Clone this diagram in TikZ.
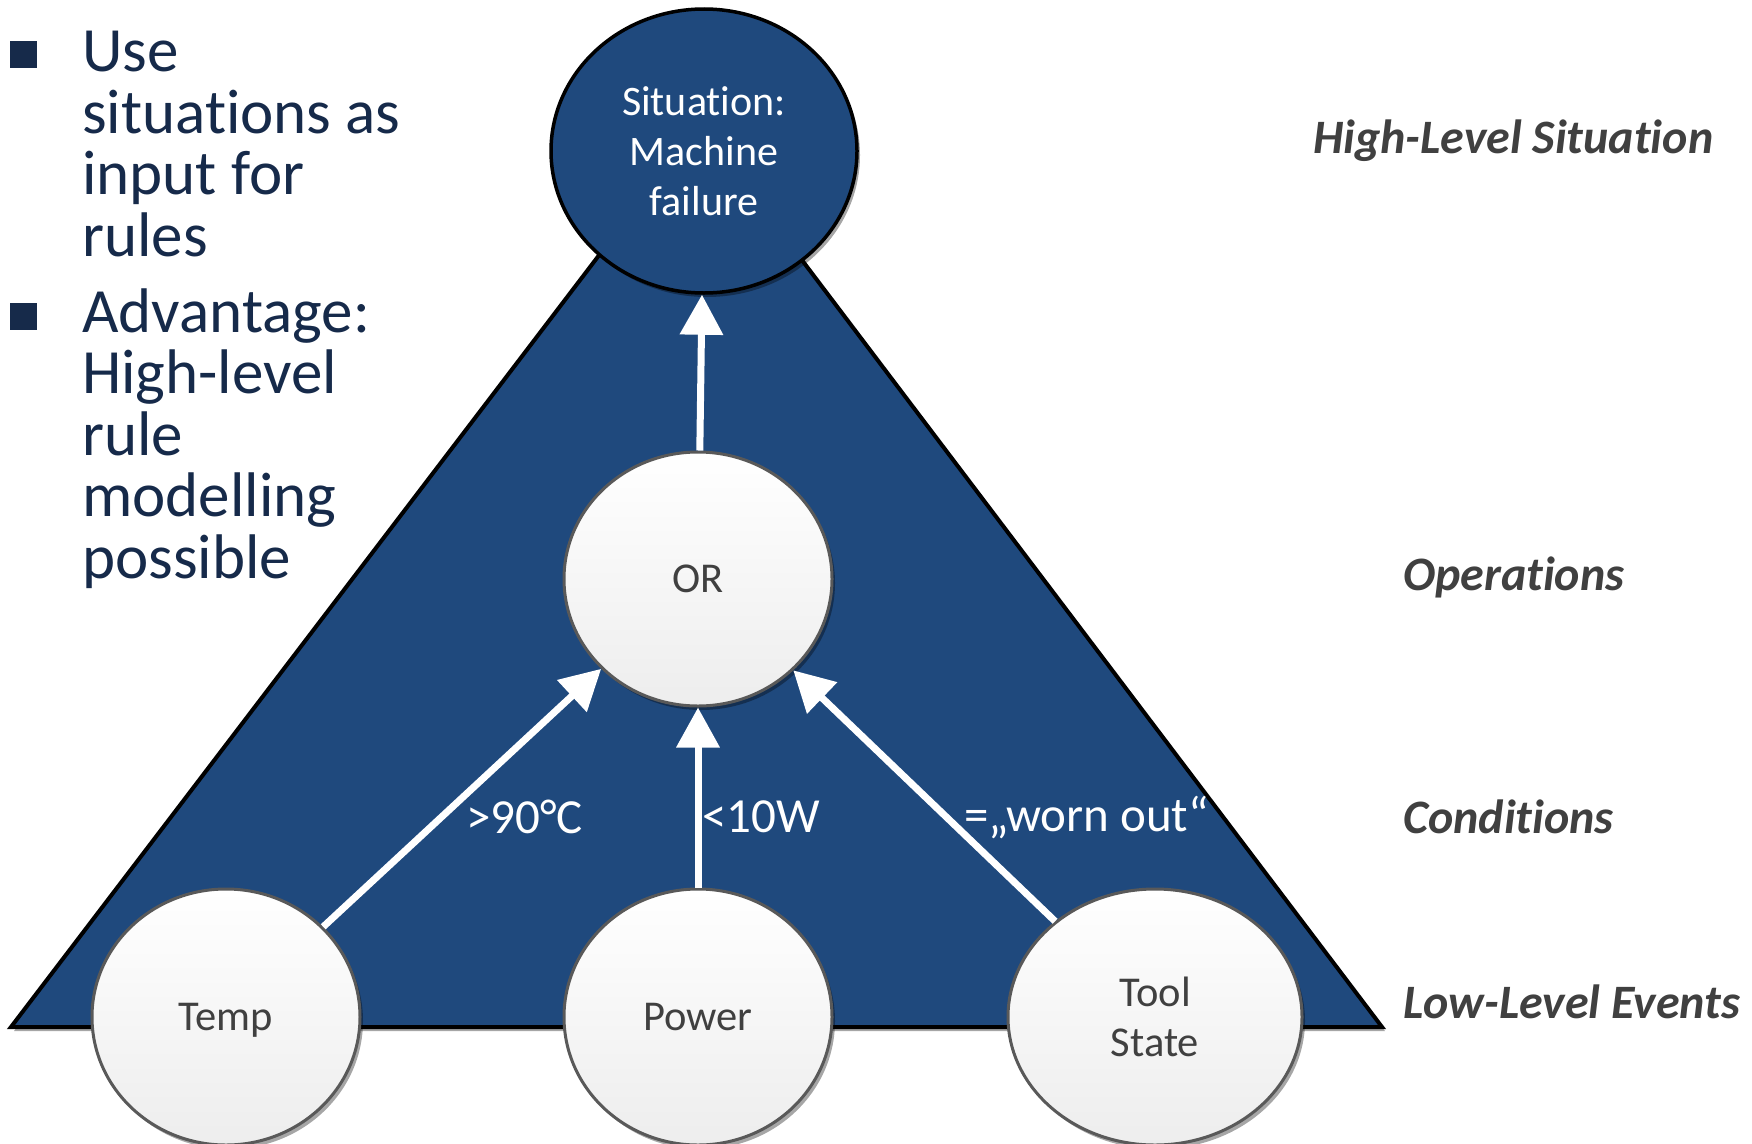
\documentclass[tikz,border=0pt]{standalone}
\usepackage{fontspec}
\setmainfont{Carlito}[Ligatures=NoCommon]
\usetikzlibrary{arrows.meta,shadows,shapes.geometric}
\definecolor{pyramidblue}{HTML}{1F497D}
\definecolor{navytext}{HTML}{162A4A}
\definecolor{labelgray}{HTML}{404040}
\definecolor{rimgray}{HTML}{595959}
\begin{document}
\begin{tikzpicture}[x=1pt,y=-1pt,
  softshadow/.style={drop shadow={shadow xshift=3pt,shadow yshift=-4pt,opacity=0.35,fill=black}},
  bubble/.style={ellipse,draw=rimgray,line width=3pt,top color=white,bottom color=black!7,
    inner sep=0pt,softshadow,text=labelgray,align=center,text depth=0pt,
    font=\fontsize{42.5}{50}\selectfont},
  topbubble/.style={ellipse,draw=black,line width=3.5pt,fill=pyramidblue,inner sep=0pt,
    softshadow,text=white,align=center,font=\fontsize{42}{50}\selectfont},
  flow/.style={draw=white,line width=7pt,-{Triangle[length=40pt,width=42pt]}},
  condlabel/.style={text=white,inner sep=0pt,anchor=west,font=\fontsize{49}{50}\selectfont},
  levellabel/.style={text=labelgray,inner sep=0pt,anchor=west,font=\fontsize{48}{50}\bfseries\itshape},
  bodytext/.style={text=navytext,inner sep=0pt,anchor=base west,align=left,font=\fontsize{63}{61.5}\selectfont},
  bulletsq/.style={fill=navytext,minimum size=27pt,inner sep=0pt}
]
\useasboundingbox (0,0) rectangle (1752,1143);
\clip (0,0) rectangle (1752,1143);
\fill[white] (0,0) rectangle (1752,1143);

% pyramid background
\filldraw[fill=pyramidblue,draw=black,line width=4pt,softshadow]
  (11,1027) -- (699,124) -- (1382,1027) -- cycle;

% bubbles
\node[topbubble,minimum width=306pt,minimum height=284pt] (sit) at (704,151) {Situation:\\Machine\\failure};
\node[bubble,minimum width=268pt,minimum height=254pt] (or) at (698,579) {OR};
\node[bubble,minimum width=268pt,minimum height=256pt] (temp) at (226,1017) {Temp};
\node[bubble,minimum width=268pt,minimum height=256pt] (power) at (698,1017) {Power};
\node[bubble,minimum width=294pt,minimum height=256pt] (tool) at (1155,1017) {Tool\\State};

% connectors
\draw[flow] (or) -- (sit);
\draw[flow] (temp) -- (or);
\draw[flow] (power) -- (or);
\draw[flow] (tool) -- (or);

% condition labels
\node[condlabel] (ctemp) at (466,817) {>90°C};
\node[condlabel] (cpower) at (702,817) {<10W};
\node[condlabel] (ctool) at (964,817) {=„worn out“};

% level labels
\node[levellabel] (lhigh) at (1313,141) {High-Level Situation};
\node[levellabel] (lops) at (1403,577) {Operations};
\node[levellabel] (lcond) at (1403,817) {Conditions};
\node[levellabel] (llow) at (1403,1002) {Low-Level Events};

% bullet list (each node sits on the baseline of its last line)
\node[bulletsq] (b1) at (23.5,54.5) {};
\node[bodytext] (p1) at (82,256) {Use\\situations as\\input for\\rules};
\node[bulletsq] (b2) at (23.5,316) {};
\node[bodytext] (p2) at (82,578) {Advantage:\\High-level\\rule\\modelling\\possible};
\end{tikzpicture}
\end{document}
